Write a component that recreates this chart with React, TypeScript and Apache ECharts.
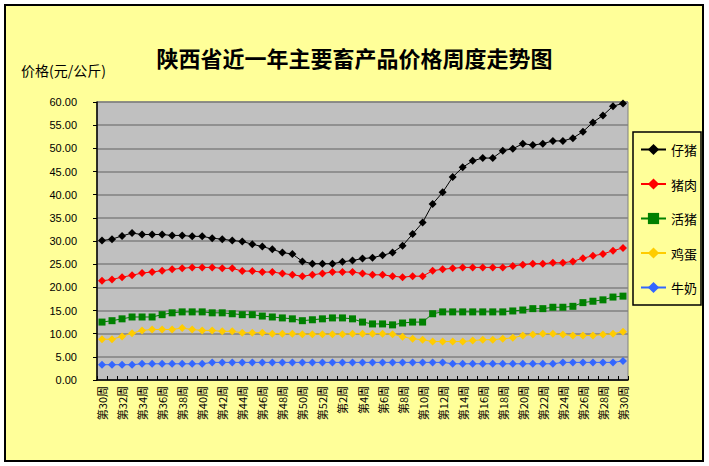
import React, { useEffect, useRef } from "react";
import * as echarts from "echarts";

const categories = [
  "第30周","第31周","第32周","第33周","第34周","第35周","第36周","第37周","第38周","第39周",
  "第40周","第41周","第42周","第43周","第44周","第45周","第46周","第47周","第48周","第49周",
  "第50周","第51周","第52周","第1周","第2周","第3周","第4周","第5周","第6周","第7周",
  "第8周","第9周","第10周","第11周","第12周","第13周","第14周","第15周","第16周","第17周",
  "第18周","第19周","第20周","第21周","第22周","第23周","第24周","第25周","第26周","第27周",
  "第28周","第29周","第30周",
];

const piglet = [
  30.1, 30.4, 31.1, 31.7, 31.4, 31.4, 31.4, 31.2, 31.2, 31.0,
  31.0, 30.6, 30.4, 30.1, 29.9, 29.3, 28.8, 28.2, 27.5, 27.2,
  25.6, 25.1, 25.1, 25.1, 25.5, 25.8, 26.2, 26.4, 26.9, 27.5,
  29.0, 31.5, 34.0, 38.0, 40.5, 43.8, 45.9, 47.3, 47.9, 47.9,
  49.5, 49.9, 51.0, 50.7, 51.0, 51.6, 51.6, 52.2, 53.6, 55.6,
  57.1, 59.1, 59.7,
];
const pork = [
  21.4, 21.7, 22.2, 22.6, 23.1, 23.3, 23.6, 23.9, 24.1, 24.3,
  24.3, 24.3, 24.1, 24.1, 23.5, 23.5, 23.3, 23.3, 23.0, 22.7,
  22.4, 22.7, 23.0, 23.3, 23.3, 23.3, 23.0, 22.7, 22.7, 22.4,
  22.2, 22.4, 22.4, 23.6, 23.9, 24.1, 24.3, 24.3, 24.3, 24.3,
  24.3, 24.6, 24.9, 25.1, 25.1, 25.3, 25.3, 25.6, 26.3, 26.8,
  27.2, 27.9, 28.5,
];
const livePig = [
  12.5, 12.8, 13.2, 13.6, 13.6, 13.6, 14.1, 14.5, 14.7, 14.7,
  14.7, 14.5, 14.5, 14.3, 14.1, 14.1, 13.8, 13.6, 13.4, 13.2,
  12.8, 13.0, 13.2, 13.4, 13.4, 13.2, 12.5, 12.1, 12.1, 11.9,
  12.3, 12.5, 12.5, 14.3, 14.7, 14.7, 14.7, 14.7, 14.7, 14.7,
  14.7, 14.9, 15.1, 15.4, 15.4, 15.7, 15.7, 15.9, 16.7, 17.0,
  17.3, 17.9, 18.1,
];
const egg = [
  8.8, 8.8, 9.4, 10.1, 10.7, 10.9, 10.9, 10.9, 11.2, 10.9,
  10.7, 10.7, 10.5, 10.5, 10.2, 10.2, 10.2, 10.0, 10.0, 10.0,
  9.9, 9.9, 9.9, 9.9, 9.9, 10.0, 10.0, 10.0, 10.0, 9.9,
  9.35, 8.9, 8.7, 8.3, 8.3, 8.3, 8.3, 8.5, 8.7, 8.7,
  8.9, 9.1, 9.6, 9.8, 10.0, 10.0, 9.8, 9.6, 9.6, 9.6,
  9.8, 10.0, 10.4,
];
const milk = [
  3.3, 3.3, 3.3, 3.3, 3.5, 3.5, 3.5, 3.5, 3.5, 3.5,
  3.5, 3.8, 3.8, 3.8, 3.8, 3.8, 3.8, 3.8, 3.8, 3.8,
  3.8, 3.8, 3.8, 3.8, 3.8, 3.8, 3.8, 3.8, 3.8, 3.8,
  3.8, 3.8, 3.8, 3.8, 3.8, 3.5, 3.5, 3.5, 3.5, 3.5,
  3.5, 3.5, 3.5, 3.5, 3.5, 3.5, 3.8, 3.8, 3.8, 3.8,
  3.8, 3.8, 4.1,
];

const seriesNames = ["仔猪", "猪肉", "活猪", "鸡蛋", "牛奶"];
const seriesData = [piglet, pork, livePig, egg, milk];
const seriesColors = ["#000000", "#FF0000", "#008000", "#FFCC00", "#3366FF"];
const seriesSymbols = ["diamond", "diamond", "rect", "diamond", "diamond"];

const CJK = "'Noto Sans CJK SC', sans-serif";

export default function App() {
  const ref = useRef<HTMLDivElement>(null);
  useEffect(() => {
    if (!ref.current) return;
    const chart = echarts.init(ref.current, null, { renderer: "svg" });
    chart.setOption({
      animation: false,
      backgroundColor: "#FFFFFF",
      title: {
        text: "陕西省近一年主要畜产品价格周度走势图",
        left: "center",
        top: 41,
        textStyle: { fontFamily: CJK, fontSize: 22, fontWeight: "bold", color: "#000000" },
      },
      graphic: [
        {
          type: "rect",
          z: -10,
          shape: { x: 5, y: 5, width: 698, height: 456 },
          style: { fill: "#FFFF99", stroke: "#000000", lineWidth: 2 },
        },
        {
          type: "text",
          x: 21,
          y: 70,
          style: {
            text: "价格(元/公斤)",
            fontFamily: CJK,
            fontSize: 14,
            fill: "#000000",
            verticalAlign: "middle",
          },
        },
      ],
      legend: {
        orient: "vertical",
        left: 633,
        top: 132,
        padding: [11, 4, 11, 7],
        itemGap: 21.5,
        itemWidth: 25,
        itemHeight: 14,
        backgroundColor: "#FFFF99",
        borderColor: "#000000",
        borderWidth: 1.5,
        textStyle: { fontFamily: CJK, fontSize: 13, color: "#000000", padding: [0, 0, 0, 0] },
        data: seriesNames,
      },
      grid: {
        left: 97,
        top: 102,
        right: 81,
        bottom: 86,
        show: true,
        backgroundColor: "#C0C0C0",
        borderColor: "#808080",
        borderWidth: 1,
      },
      xAxis: {
        type: "category",
        data: categories,
        boundaryGap: true,
        axisLine: { show: true, lineStyle: { color: "#000000", width: 1.5 } },
        axisTick: { show: true, inside: true, length: 4, interval: 0, lineStyle: { color: "#000000" } },
        axisLabel: {
          interval: 1,
          rotate: 90,
          margin: 6,
          fontFamily: CJK,
          fontSize: 11,
          color: "#000000",
        },
        splitLine: { show: false },
      },
      yAxis: {
        type: "value",
        min: 0,
        max: 60,
        interval: 5,
        axisLine: { show: true, lineStyle: { color: "#000000", width: 1.5 } },
        axisTick: { show: true, inside: false, length: 4, lineStyle: { color: "#000000" } },
        axisLabel: {
          formatter: (v: number) => v.toFixed(2),
          fontFamily: "'Liberation Sans', Arial, sans-serif",
          fontSize: 11,
          color: "#000000",
          margin: 20,
        },
        splitLine: { show: true, lineStyle: { color: "#808080", width: 1.5 } },
      },
      series: seriesNames.map((name, i) => ({
        name,
        type: "line",
        data: seriesData[i],
        symbol: seriesSymbols[i],
        symbolSize: seriesSymbols[i] === "rect" ? 7 : 8,
        showSymbol: true,
        showAllSymbol: true,
        lineStyle: { color: seriesColors[i], width: 1 },
        itemStyle: { color: seriesColors[i] },
      })),
    });
    return () => chart.dispose();
  }, []);
  return (
    <div
      ref={ref}
      style={{ position: "fixed", left: 0, top: 0, width: 709, height: 466 }}
    />
  );
}
